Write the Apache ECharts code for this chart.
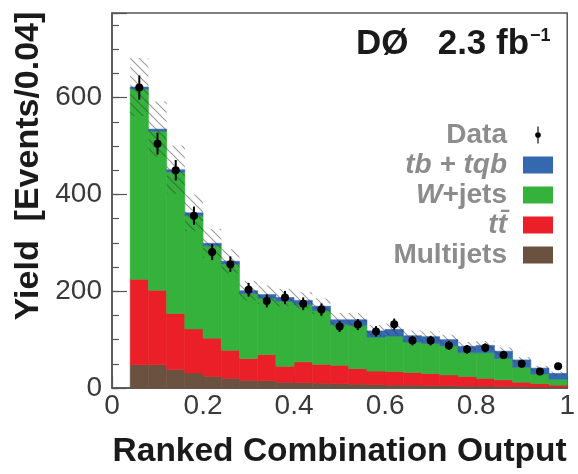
<!DOCTYPE html>
<html>
<head>
<meta charset="utf-8">
<script src="https://cdn.jsdelivr.net/npm/echarts@6/dist/echarts.min.js"></script>
<style>
  html, body { margin: 0; padding: 0; background: #ffffff; }
  #chart { width: 578px; height: 474px; }
</style>
</head>
<body>
<div id="chart"></div>
<script>
// Bin edges of the discriminant histogram (width 0.04)
const binEdges = [0.04, 0.08, 0.12, 0.16, 0.20, 0.24, 0.28, 0.32, 0.36, 0.40, 0.44, 0.48,
                  0.52, 0.56, 0.60, 0.64, 0.68, 0.72, 0.76, 0.80, 0.84, 0.88, 0.92, 0.96, 1.00];

// Expected yields per bin, stacked bottom to top
const multijets = [48, 48, 38, 31, 24, 20, 16, 15, 12, 11, 10, 9, 8, 7, 6, 6, 5, 5, 4, 4, 3, 3, 2, 2];
const ttbar     = [177, 154, 116, 91, 79, 58, 45, 54, 33, 43, 39, 38, 32, 28, 28, 26, 25, 22, 20, 16, 14, 9, 7, 4];
const wjets     = [393, 329, 292, 234, 191, 178, 134, 116, 134, 118, 111, 84, 89, 70, 73, 63, 62, 60, 49, 53, 44, 31, 20, 12];
const signal    = [4, 4, 5, 6, 5, 6, 6, 8, 8, 9, 9, 10, 12, 13, 14, 13, 14, 13, 13, 15, 15, 15, 12, 12];

// Background-model uncertainty (half width of the hatched band)
const bandHalf  = [60, 57, 50, 38, 30, 25, 20, 19, 18, 17, 16, 14, 14, 12, 12, 11, 11, 10, 9, 9, 8, 6, 5, 4];

// Observed events per bin
const observed  = [621, 505, 450, 356, 281, 256, 203, 180, 187, 174, 162, 127, 131, 117, 132, 98, 98, 88, 80, 83, 68, 50, 34, 45];

// Axis ticks
const xTicks = [0, 0.2, 0.4, 0.6, 0.8, 1];
const yTicks = [0, 200, 400, 600];

const COLORS = {
  signal: '#3469b0',
  wjets: '#34b23c',
  ttbar: '#ea1f27',
  multijets: '#6b5140'
};

// Stack the components: each item is [lo, hi, base, top]
const layers = [
  { name: 'Multijets', values: multijets, color: COLORS.multijets },
  { name: 'tt\u0304', values: ttbar, color: COLORS.ttbar },
  { name: 'W+jets', values: wjets, color: COLORS.wjets },
  { name: 'tb+tqb', values: signal, color: COLORS.signal }
];
const running = binEdges.slice(0, -1).map(() => 0);
const layerData = layers.map(layer => layer.values.map((v, i) => {
  const base = running[i];
  running[i] += v;
  return [binEdges[i], binEdges[i + 1], base, running[i]];
}));
const totals = running.slice();

const bandData = totals.map((t, i) => [binEdges[i], binEdges[i + 1], t - bandHalf[i], t + bandHalf[i]]);
const pointData = observed.map((n, i) => [(binEdges[i] + binEdges[i + 1]) / 2, n, Math.sqrt(n)]);

// Diagonal hatch used for the uncertainty band
function hatchPattern() {
  const s = 9;
  const c = document.createElement('canvas');
  c.width = s; c.height = s;
  const g = c.getContext('2d');
  g.strokeStyle = 'rgba(60,60,60,0.5)';
  g.lineWidth = 1.1;
  g.beginPath();
  g.moveTo(-1, -1); g.lineTo(s + 1, s + 1);
  g.moveTo(-1, s - 1); g.lineTo(1, s + 1);
  g.moveTo(s - 1, -1); g.lineTo(s + 1, 1);
  g.stroke();
  return c;
}
const hatch = hatchPattern();

function binRect(params, api) {
  const p0 = api.coord([api.value(0), api.value(3)]);
  const p1 = api.coord([api.value(1), api.value(2)]);
  const color = api.visual('color');
  return {
    type: 'rect',
    shape: { x: p0[0], y: p0[1], width: p1[0] - p0[0], height: p1[1] - p0[1] },
    style: { fill: color, stroke: color, lineWidth: 0.6 }
  };
}

function bandRect(params, api) {
  const p0 = api.coord([api.value(0), api.value(3)]);
  const p1 = api.coord([api.value(1), api.value(2)]);
  return {
    type: 'rect',
    shape: { x: p0[0], y: p0[1], width: p1[0] - p0[0], height: p1[1] - p0[1] },
    style: { fill: { image: hatch, repeat: 'repeat' } }
  };
}

function dataPoint(params, api) {
  const x = api.value(0), y = api.value(1), e = api.value(2);
  const c = api.coord([x, y]);
  const hi = api.coord([x, y + e]);
  const lo = api.coord([x, y - e]);
  return {
    type: 'group',
    children: [
      { type: 'line', shape: { x1: c[0], y1: hi[1], x2: c[0], y2: lo[1] },
        style: { stroke: '#000', lineWidth: 2 } },
      { type: 'circle', shape: { cx: c[0], cy: c[1], r: 4 }, style: { fill: '#000' } }
    ]
  };
}

const chart = echarts.init(document.getElementById('chart'), null, { renderer: 'canvas' });

const series = layers.map((layer, k) => ({
  name: layer.name,
  type: 'custom',
  renderItem: binRect,
  itemStyle: { color: layer.color },
  encode: { x: [0, 1], y: [2, 3] },
  data: layerData[k],
  z: 2
}));
series.push({
  name: 'uncertainty',
  type: 'custom',
  renderItem: bandRect,
  encode: { x: [0, 1], y: [2, 3] },
  data: bandData,
  silent: true,
  z: 3
});
series.push({
  name: 'Data',
  type: 'custom',
  renderItem: dataPoint,
  itemStyle: { color: '#000' },
  encode: { x: 0, y: 1 },
  data: pointData,
  z: 4
});

const legendNames = {
  'Data': '{n|Data}',
  'tb+tqb': '{i|tb}{i| + }{i|tqb}',
  'W+jets': '{i|W}{n|+jets}',
  'tt\u0304': '{i|tt\u0304}',
  'Multijets': '{n|Multijets}'
};

const axisColor = '#555';

chart.setOption({
  animation: false,
  backgroundColor: '#ffffff',
  title: {
    text: '{a|D\u00d8   2.3 fb}{s|\u22121}',
    left: 356,
    top: 27,
    padding: 0,
    textStyle: {
      rich: {
        a: { fontFamily: 'Liberation Sans', fontWeight: 'bold', fontSize: 35, color: '#1a1a1a' },
        s: { fontFamily: 'Liberation Sans', fontWeight: 'bold', fontSize: 18, color: '#1a1a1a', verticalAlign: 'top', padding: [0, 0, 16, 1] }
      }
    }
  },
  legend: {
    orient: 'vertical',
    align: 'right',
    right: 25,
    top: 121,
    padding: 0,
    itemWidth: 30,
    itemHeight: 17,
    itemGap: 2,
    icon: 'rect',
    data: [
      { name: 'Data', icon: 'path://M9,0 L11,0 L11,30 L9,30 Z M10,10 A5,5 0 1 1 10,20 A5,5 0 1 1 10,10 Z' },
      'tb+tqb', 'W+jets', 'tt\u0304', 'Multijets'
    ],
    formatter: name => legendNames[name] || name,
    textStyle: {
      padding: [0, 11, 0, 0],
      rich: {
        n: { fontFamily: 'Liberation Sans', fontWeight: 'bold', fontSize: 28, color: '#8c8c8c' },
        i: { fontFamily: 'Liberation Sans', fontWeight: 'bold', fontStyle: 'italic', fontSize: 28, color: '#8c8c8c' }
      }
    }
  },
  grid: {
    left: 112, right: 8, top: 13, bottom: 80,
    show: true, borderColor: axisColor, borderWidth: 1.5, backgroundColor: 'transparent'
  },
  xAxis: {
    type: 'value',
    min: 0, max: 1, interval: 0.2,
    name: 'Ranked Combination Output',
    nameLocation: 'middle',
    nameGap: 47,
    nameTextStyle: { fontFamily: 'Liberation Sans', fontWeight: 'bold', fontSize: 33.5, color: '#1a1a1a' },
    axisLine: { show: true, lineStyle: { color: axisColor, width: 1.5 } },
    axisTick: { show: true, inside: true, length: 12, lineStyle: { color: axisColor, width: 1.2 } },
    minorTick: { show: true, splitNumber: 4, length: 6, lineStyle: { color: axisColor, width: 1.2 } },
    splitLine: { show: false },
    axisLabel: {
      margin: 4,
      fontFamily: 'Liberation Sans', fontSize: 28, color: '#3a3a3a',
      formatter: v => {
        const t = xTicks.find(k => Math.abs(k - v) < 1e-9);
        return t === undefined ? '' : String(t);
      }
    }
  },
  yAxis: [
    {
      type: 'value',
      min: 0, max: 775, interval: 200,
      axisLine: { show: true, lineStyle: { color: axisColor, width: 1.5 } },
      axisTick: { show: true, inside: true, length: 15, lineStyle: { color: axisColor, width: 1.2 } },
      splitLine: { show: false },
      axisLabel: {
        margin: 10,
        fontFamily: 'Liberation Sans', fontSize: 28, color: '#3a3a3a',
        formatter: v => (yTicks.indexOf(v) >= 0 ? String(v) : '')
      }
    },
    {
      type: 'value',
      position: 'left',
      offset: 0,
      min: 0, max: 775, interval: 50,
      axisLine: { show: false },
      axisTick: { show: true, inside: true, length: 7, lineStyle: { color: axisColor, width: 1.2 } },
      splitLine: { show: false },
      axisLabel: { show: false }
    }
  ],
  graphic: [
    {
      type: 'text',
      x: 29, y: 166,
      rotation: Math.PI / 2,
      style: {
        text: 'Yield  [Events/0.04]',
        fontFamily: 'Liberation Sans', fontWeight: 'bold', fontSize: 34, fill: '#1a1a1a',
        align: 'center', verticalAlign: 'middle'
      }
    }
  ],
  series: series
});
</script>
</body>
</html>
